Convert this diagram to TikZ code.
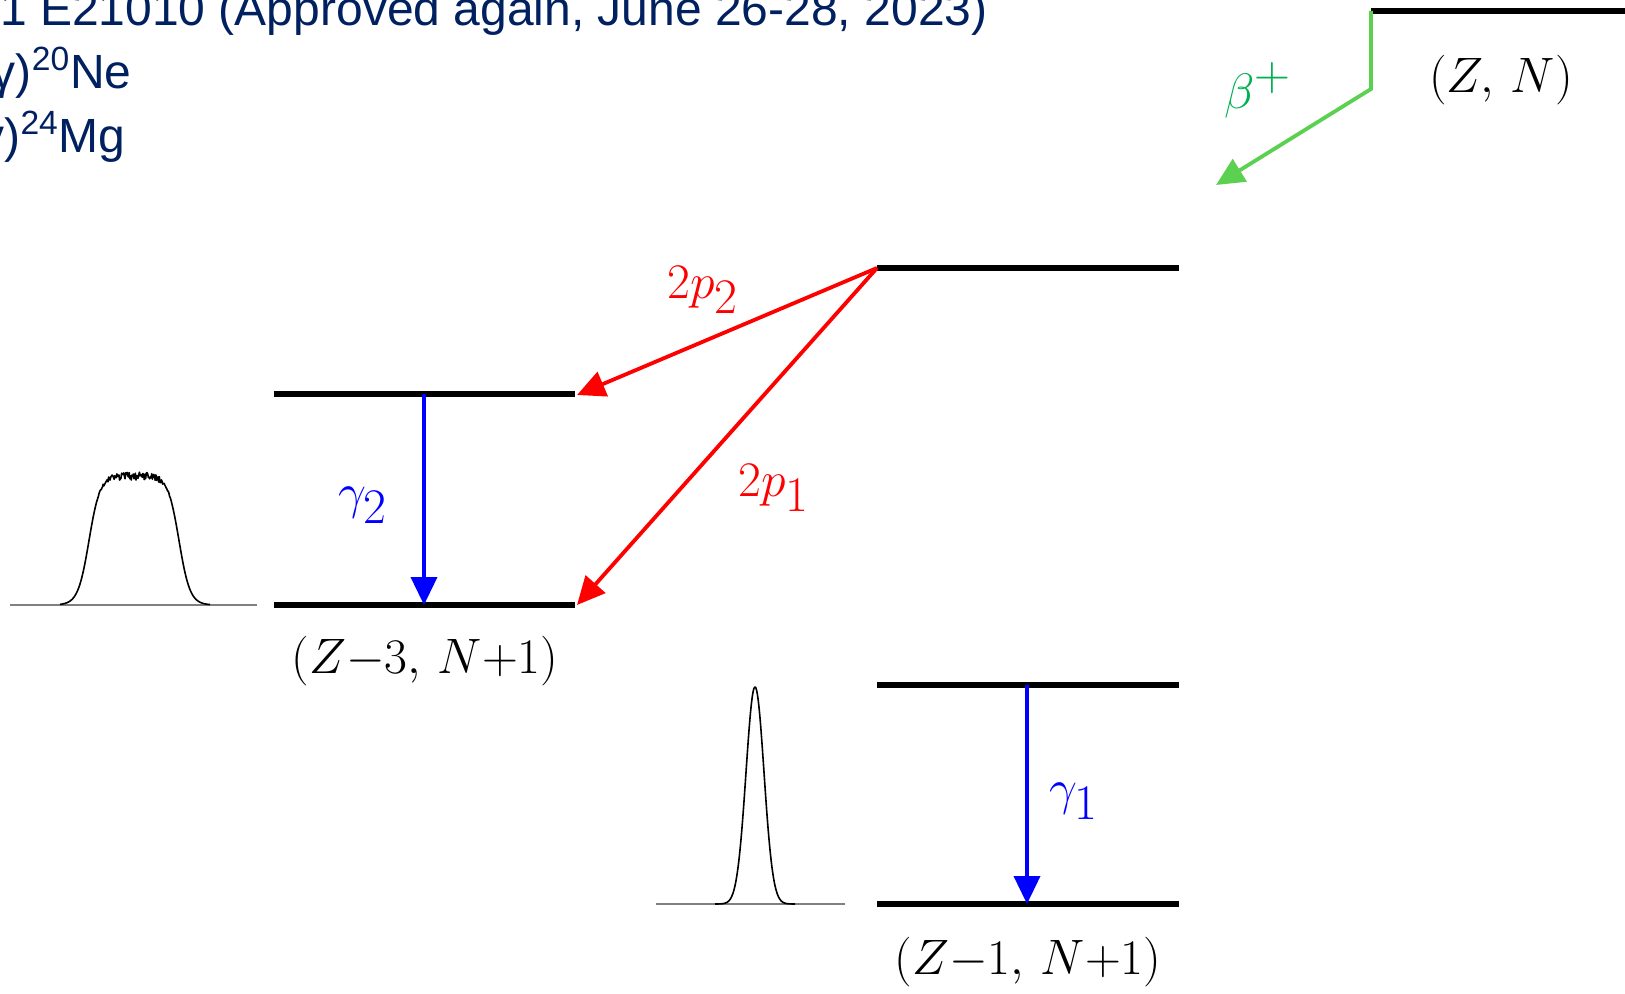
\documentclass[tikz,border=0pt]{standalone}
\usepackage[no-math]{fontspec}
\newfontfamily\hdrfont{Liberation Sans}
\usetikzlibrary{arrows.meta}
\definecolor{navy}{RGB}{0,32,96}
\definecolor{garrow}{RGB}{92,208,80}
\definecolor{gtext}{RGB}{0,176,80}
\begin{document}
\begin{tikzpicture}[x=0.5pt,y=-0.5pt,
  levelline/.style={line width=2.6pt, black},
  redarr/.style={red, line width=1.9pt, -{Triangle[length=14pt,width=13pt]}},
  bluearr/.style={blue, line width=1.9pt, -{Triangle[length=14pt,width=13pt]}},
  greenarr/.style={garrow, line width=1.9pt, -{Triangle[length=14pt,width=13pt]}},
  lbl/.style={inner sep=0pt, font=\fontsize{34}{40}\selectfont},
  biglbl/.style={inner sep=0pt, font=\fontsize{38}{44}\selectfont},
  hdr/.style={inner sep=0pt, anchor=base east, text=navy, font=\hdrfont\fontsize{24}{28}\selectfont},
  spec/.style={line width=0.8pt, black, line join=round},
  specbase/.style={line width=0.6pt, gray},
  declare function={fl(\t)=1/(1+exp(-(\t-89)/5.5))/(1+exp((\t-179)/5.5));}]
\useasboundingbox (0,0) rectangle (1625,994);
\clip (0,0) rectangle (1625,994);

% header text
\node[hdr] (h1) at (988,26) {-1 E21010 (Approved again, June 26-28, 2023)};
\node[hdr] (h2) at (132,89) {γ)\textsuperscript{20}Ne};
\node[hdr] (h3) at (126,153) {γ)\textsuperscript{24}Mg};

% level coordinates
\coordinate (zna) at (1371,11);  \coordinate (znb) at (1640,11);
\coordinate (ma) at (877,268);   \coordinate (mb) at (1179,268);
\coordinate (lua) at (274,394);  \coordinate (lub) at (575,394);
\coordinate (lla) at (274,605);  \coordinate (llb) at (575,605);
\coordinate (rua) at (877,685);  \coordinate (rub) at (1179,685);
\coordinate (rla) at (877,904);  \coordinate (rlb) at (1179,904);

\draw[levelline] (zna) -- (znb);
\draw[levelline] (ma) -- (mb);
\draw[levelline] (lua) -- (lub);
\draw[levelline] (lla) -- (llb);
\draw[levelline] (rua) -- (rub);
\draw[levelline] (rla) -- (rlb);

% beta decay
\coordinate (gk) at (1371,89);
\coordinate (gt) at (1216,185);
\draw[greenarr] (zna) -- (gk) -- (gt);
\node[lbl, text=gtext] (beta) at (1258,90) {$\beta^{+}$};
\node[lbl] (zn) at (1501,80) {$(Z,\,N)$};

% proton emission
\coordinate (p2t) at (577,395);
\coordinate (p1t) at (577,605);
\draw[redarr] (ma) -- (p2t);
\draw[redarr] (ma) -- (p1t);
\node[biglbl, text=red] (l2p2) at (703,290) {$2p_2$};
\node[biglbl, text=red] (l2p1) at (774,488) {$2p_1$};

% gamma transitions
\coordinate (g2a) at (424,394); \coordinate (g2b) at (424,605);
\coordinate (g1a) at (1027,685); \coordinate (g1b) at (1027,904);
\draw[bluearr] (g2a) -- (g2b);
\draw[bluearr] (g1a) -- (g1b);
\node[biglbl, text=blue] (lg2) at (363,505) {$\gamma_2$};
\node[biglbl, text=blue] (lg1) at (1074,801) {$\gamma_1$};

% nucleus labels
\node[lbl] (z3) at (425,661) {$(Z{-}3,\,N{+}1)$};
\node[lbl] (z1) at (1028,962) {$(Z{-}1,\,N{+}1)$};

% spectra
\pgfmathsetseed{7}
\draw[specbase] (10,605) -- (257,605);
\draw[spec] plot[domain=60:210, samples=220, variable=\x]
  (\x, {605 - 129*fl(\x) - 4*rand*(fl(\x))^12});
\draw[specbase] (656,904) -- (845,904);
\draw[spec] plot[domain=715:795, samples=161, variable=\x]
  (\x, {904 - 217*exp(-((\x-755)^2)/162)});
\end{tikzpicture}
\end{document}
